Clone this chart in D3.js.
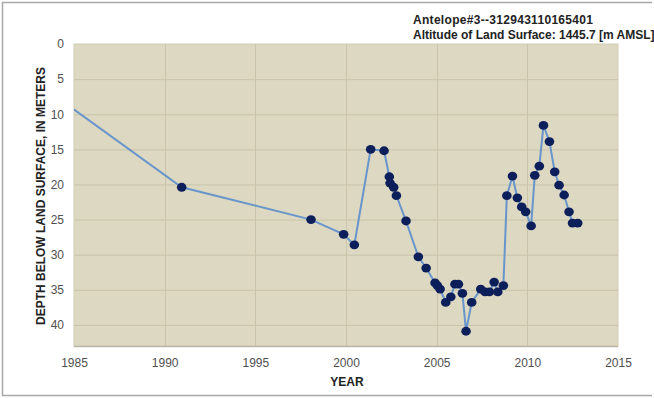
<!DOCTYPE html>
<html lang="en">
<head>
    <title>Antelope#3 water level</title>
    <script src="https://d3js.org/d3.v7.min.js"></script>
    <style>
        body { margin: 0; background: #fff; }
        text { font-family: "Liberation Sans", Arial, sans-serif; }
    </style>
</head>
<body>
<script>
    // measurement dates (decimal years) and depth below land surface (m)
    var years = [1984.5, 1990.94, 1998.07, 1999.87, 2000.46, 2001.36, 2002.1, 2002.39, 2002.43,
        2002.63, 2002.78, 2003.31, 2003.99, 2004.42, 2004.91, 2005.04, 2005.19, 2005.5, 2005.78,
        2006.01, 2006.2, 2006.42, 2006.62, 2006.93, 2007.43, 2007.67, 2007.91, 2008.17, 2008.37,
        2008.68, 2008.87, 2009.18, 2009.45, 2009.69, 2009.91, 2010.21, 2010.41, 2010.66, 2010.89,
        2011.22, 2011.51, 2011.75, 2012.03, 2012.3, 2012.49, 2012.78];
    var depths = [8.4, 20.4, 25.0, 27.1, 28.6, 15.0, 15.2, 18.9, 19.8,
        20.4, 21.6, 25.2, 30.3, 31.9, 34.0, 34.4, 34.9, 36.8, 36.0,
        34.2, 34.2, 35.5, 40.9, 36.8, 34.9, 35.3, 35.3, 33.9, 35.3,
        34.4, 21.6, 18.8, 21.9, 23.2, 23.9, 25.9, 18.7, 17.4, 11.6,
        13.9, 18.2, 20.1, 21.5, 23.9, 25.5, 25.5];
    var xTicks = [1985, 1990, 1995, 2000, 2005, 2010, 2015];
    var yTicks = [0, 5, 10, 15, 20, 25, 30, 35, 40];
    var titleLines = ["Antelope#3--312943110165401", "Altitude of Land Surface: 1445.7 [m AMSL]"];

    var width = 654, height = 398;
    var margin = {top: 44, right: 36, bottom: 52, left: 74};
    var plotW = width - margin.left - margin.right,
        plotH = height - margin.top - margin.bottom;

    var svg = d3.select("body").append("svg")
        .attr("width", width)
        .attr("height", height);

    // frame around the figure
    svg.append("path")
        .attr("d", "M652,2.5 H2.5 V395.5 H652")
        .attr("fill", "none")
        .attr("stroke", "#a8a8a8")
        .attr("stroke-width", 1.5);

    var x = d3.scaleLinear().domain([1985, 2015]).range([0, plotW]);
    var y = d3.scaleLinear().domain([0, 43]).range([0, plotH]);

    var g = svg.append("g")
        .attr("transform", "translate(" + margin.left + "," + margin.top + ")");

    g.append("rect")
        .attr("width", plotW)
        .attr("height", plotH)
        .attr("fill", "#dcd8c1")
        .attr("stroke", "#d2ceb6");

    // grid
    g.selectAll(".hgrid").data(yTicks.slice(1)).enter().append("line")
        .attr("x1", 0).attr("x2", plotW)
        .attr("y1", function(d) { return y(d) + 0.5; })
        .attr("y2", function(d) { return y(d) + 0.5; })
        .attr("stroke", "#c9c4aa");
    g.selectAll(".vgrid").data(xTicks.slice(1, -1)).enter().append("line")
        .attr("y1", 0).attr("y2", plotH)
        .attr("x1", function(d) { return Math.round(x(d)) + 0.5; })
        .attr("x2", function(d) { return Math.round(x(d)) + 0.5; })
        .attr("stroke", "#c9c4aa");
    g.append("line")
        .attr("x1", 0).attr("x2", plotW)
        .attr("y1", plotH + 0.5).attr("y2", plotH + 0.5)
        .attr("stroke", "#b9b6a6").attr("stroke-width", 1.5);

    // axes (labels only)
    var xAxis = g.append("g")
        .attr("transform", "translate(0," + plotH + ")")
        .call(d3.axisBottom(x).tickValues(xTicks).tickFormat(d3.format("d")).tickSize(0).tickPadding(12));
    var yAxis = g.append("g")
        .call(d3.axisLeft(y).tickValues(yTicks).tickSize(0).tickPadding(10));
    [xAxis, yAxis].forEach(function(a) {
        a.select(".domain").remove();
        a.selectAll("text")
            .attr("font-family", "Liberation Sans, Arial, sans-serif")
            .attr("font-size", 12)
            .attr("fill", "#505050");
    });

    // data
    svg.append("clipPath").attr("id", "clip")
        .append("rect").attr("width", plotW).attr("height", plotH);
    var data = years.map(function(v, i) { return {yr: v, d: depths[i]}; });
    var plot = g.append("g").attr("clip-path", "url(#clip)");

    plot.append("path")
        .datum(data)
        .attr("fill", "none")
        .attr("stroke", "#6895cb")
        .attr("stroke-width", 2)
        .attr("d", d3.line().x(function(p) { return x(p.yr); }).y(function(p) { return y(p.d); }));

    plot.selectAll("ellipse").data(data.slice(1)).enter().append("ellipse")
        .attr("cx", function(p) { return x(p.yr); })
        .attr("cy", function(p) { return y(p.d); })
        .attr("rx", 4.8)
        .attr("ry", 4.4)
        .attr("fill", "#0d1f5a");

    // labels
    svg.append("text")
        .attr("x", 347).attr("y", 386)
        .attr("text-anchor", "middle")
        .attr("font-size", 12).attr("font-weight", "bold")
        .attr("fill", "#222")
        .text("YEAR");

    svg.append("text")
        .attr("transform", "translate(45," + (margin.top + 152) + ") rotate(-90)")
        .attr("text-anchor", "middle")
        .attr("font-size", 12).attr("font-weight", "bold")
        .attr("fill", "#222")
        .text("DEPTH BELOW LAND SURFACE, IN METERS");

    svg.selectAll(".title").data(titleLines).enter().append("text")
        .attr("x", 413)
        .attr("y", function(d, i) { return 24 + i * 15; })
        .attr("font-size", 12).attr("font-weight", "bold")
        .attr("letter-spacing", function(d, i) { return i === 0 ? 0.3 : 0; })
        .attr("fill", "#222")
        .text(function(d) { return d; });
</script>
</body>
</html>
